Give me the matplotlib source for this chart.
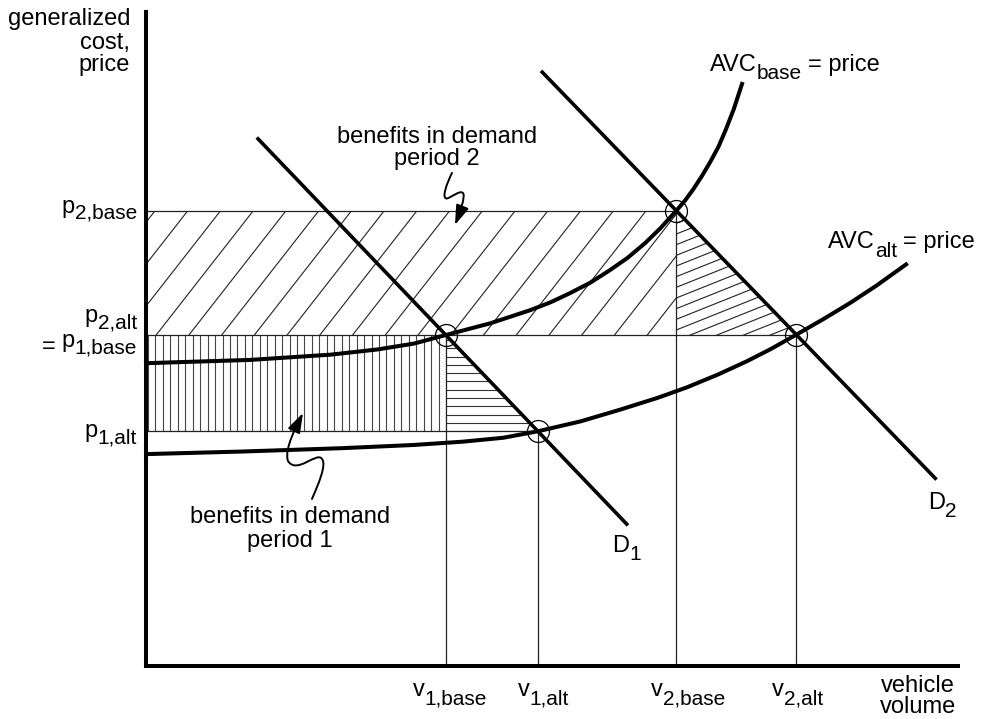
import numpy as np
import matplotlib
matplotlib.use("Agg")
import matplotlib.pyplot as plt
from matplotlib.patches import Polygon, FancyArrowPatch, ArrowStyle
from matplotlib.collections import LineCollection
from matplotlib.path import Path
from matplotlib.transforms import IdentityTransform, offset_copy

plt.rcParams['font.family'] = ['Liberation Sans', 'DejaVu Sans']

# equilibrium volumes and prices
v1_base, v1_alt, v2_base, v2_alt = 3.69, 4.83, 6.53, 8.00
p2_base, p1_base, p1_alt = 6.96, 5.06, 3.59

# demand curves (straight lines between end points)
d1_v = [1.38, 5.92]
d1_p = [8.06, 2.17]
d2_v = [4.88, 9.72]
d2_p = [9.08, 2.87]

# average variable cost curves (base and alternative)
avc_base_v = [0.00, 1.28, 2.27, 2.85, 3.30, 3.69, 4.24, 4.73, 4.98, 5.22, 5.47, 5.71, 5.93,
              6.15, 6.34, 6.53, 6.64, 6.74, 6.85, 6.95, 7.05, 7.14, 7.24, 7.34]
avc_base_p = [4.63, 4.68, 4.76, 4.84, 4.93, 5.06, 5.24, 5.44, 5.56, 5.70, 5.86, 6.05, 6.24,
              6.47, 6.70, 6.96, 7.12, 7.29, 7.50, 7.71, 7.94, 8.20, 8.52, 8.90]
avc_alt_v = [0.00, 1.20, 2.40, 3.30, 3.90, 4.40, 4.83, 5.35, 5.84, 6.30, 6.66, 7.05, 7.40,
             7.70, 8.00, 8.35, 8.67, 9.00, 9.36]
avc_alt_p = [3.24, 3.28, 3.33, 3.38, 3.43, 3.49, 3.59, 3.74, 3.92, 4.10, 4.26, 4.46, 4.66,
             4.85, 5.06, 5.31, 5.55, 5.82, 6.14]

# equilibria (circled)
eq_v = [v1_base, v1_alt, v2_base, v2_alt]
eq_p = [p1_base, p1_alt, p2_base, p1_base]

MAIN, SUB = 17, 15
INK = 'black'

fig = plt.figure(figsize=(9.84, 7.19), dpi=100)
ax = fig.add_axes([0, 0, 1, 1])
ax.set_xlim(-1.798, 10.320)
ax.set_ylim(-0.810, 10.183)
ax.axis('off')
ax.set_autoscale_on(False)


def hatch_region(verts, direction, step, anchor, shift=(0, 0), lw=0.8, color='#222222'):
    """Fill a polygon (data coords) with parallel lines spaced `step` pixels apart."""
    patch = Polygon(verts, closed=True, facecolor='none', edgecolor='none')
    ax.add_patch(patch)
    disp = ax.transData.transform(np.asarray(verts, float))
    d = np.asarray(direction, float)
    d /= np.hypot(*d)
    n = np.array([-d[1], d[0]])
    a = ax.transData.transform(anchor) + np.asarray(shift, float)
    proj = (disp - a) @ n
    k0 = int(np.floor(proj.min() / step)) - 1
    k1 = int(np.ceil(proj.max() / step)) + 1
    L = 3000
    segs = [[a + n * k * step - d * L, a + n * k * step + d * L] for k in range(k0, k1 + 1)]
    lc = LineCollection(segs, transform=IdentityTransform(), colors=color,
                        linewidths=lw, zorder=1)
    ax.add_collection(lc, autolim=False)
    lc.set_clip_path(patch)


# benefits in demand period 2: rectangle and triangle
hatch_region([(0, p1_base), (0, p2_base), (v2_base, p2_base), (v2_base, p1_base)],
             (1, 1.28), 25.8, (0, p2_base), shift=(9, 0))
hatch_region([(v2_base, p2_base), (v2_base, p1_base), (v2_alt, p1_base)],
             (1, 0.40), 9.9, (v2_base, p1_base), shift=(14, 0))
# benefits in demand period 1: rectangle and triangle
hatch_region([(0, p1_alt), (0, p1_base), (v1_base, p1_base), (v1_base, p1_alt)],
             (0, 1), 7.45, (0, p1_base), shift=(2, 0), color='#444444')
hatch_region([(v1_base, p1_base), (v1_base, p1_alt), (v1_alt, p1_alt)],
             (1, 0), 8.3, (v1_base, p1_alt), color='#333333')

# price and volume guide lines
thin = dict(color='#222222', lw=0.9, zorder=2, solid_capstyle='butt')
ax.plot([0, v2_base], [p2_base, p2_base], **thin)
ax.plot([0, v2_alt], [p1_base, p1_base], **thin)
ax.plot([0, v1_alt], [p1_alt, p1_alt], **thin)
ax.plot([v1_base, v1_base], [0, p1_base], **thin)
ax.plot([v1_alt, v1_alt], [0, p1_alt], **thin)
ax.plot([v2_base, v2_base], [0, p2_base], **thin)
ax.plot([v2_alt, v2_alt], [0, p1_base], **thin)

# cost and demand curves
ax.plot(avc_base_v, avc_base_p, color=INK, lw=2.9, zorder=3, solid_joinstyle='round')
ax.plot(avc_alt_v, avc_alt_p, color=INK, lw=2.9, zorder=3, solid_joinstyle='round')
ax.plot(d1_v, d1_p, color=INK, lw=2.6, zorder=3)
ax.plot(d2_v, d2_p, color=INK, lw=2.6, zorder=3)

# circled equilibria
ax.plot(eq_v, eq_p, 'o', ms=15.8, mfc='none', mec=INK, mew=0.9, zorder=4)

# axes
ax.plot([0, 0], [0, 10], color=INK, lw=2.9, zorder=5, solid_capstyle='projecting')
ax.plot([0, 10], [0, 0], color=INK, lw=2.9, zorder=5, solid_capstyle='projecting')

renderer = fig.canvas.get_renderer()


def rich(x, y, pieces, ha='left', dx=0.0, dy=0.0):
    """Draw a row of text pieces; each piece is (text, size, drop_px, gap_px)."""
    texts, widths = [], []
    for s, size, drop, gap in pieces:
        t = ax.text(x, y, s, fontsize=size, va='baseline', ha='left', color=INK)
        widths.append(t.get_window_extent(renderer).width)
        texts.append(t)
    total = sum(widths) + sum(p[3] for p in pieces)
    cur = {'left': 0.0, 'right': -total, 'center': -total / 2}[ha] + dx
    for t, w, (s, size, drop, gap) in zip(texts, widths, pieces):
        cur += gap
        t.set_transform(offset_copy(ax.transData, fig=fig, x=cur, y=dy - drop, units='dots'))
        cur += w


# y-axis title
for txt, yb in [('generalized', 9.80), ('cost,', 9.44), ('price', 9.10)]:
    ax.text(-0.197, yb, txt, fontsize=MAIN, ha='right', va='baseline')

# price labels
rich(0, p2_base, [('p', MAIN, 0, 0), ('2,base', SUB, 6, 0)], ha='right', dx=-9, dy=-2)
rich(0, p1_base, [('p', MAIN, 0, 0), ('2,alt', SUB, 6, 0)], ha='right', dx=-9, dy=13)
rich(0, p1_base, [('=', MAIN, 6, 0), ('p', MAIN, 0, 6), ('1,base', SUB, 6, 0)],
     ha='right', dx=-9, dy=-12)
rich(0, p1_alt, [('p', MAIN, 0, 0), ('1,alt', SUB, 6, 0)], ha='right', dx=-9, dy=-6)

# volume labels
for v, sub, off in [(v1_base, '1,base', 4), (v1_alt, '1,alt', 5),
                    (v2_base, '2,base', 12), (v2_alt, '2,alt', 2)]:
    rich(v, 0, [('v', MAIN, 0, 0), (sub, SUB, 8, 0)], ha='center', dx=off, dy=-30)
ax.text(9.507, -0.40, 'vehicle', fontsize=MAIN, ha='center', va='baseline')
ax.text(9.507, -0.715, 'volume', fontsize=MAIN, ha='center', va='baseline')

# curve labels
rich(6.946, 9.102, [('AVC', MAIN, 0, 0), ('base', SUB, 8.6, 0), ('= price', MAIN, 0, 6)])
rich(8.399, 6.387, [('AVC', MAIN, 0, 0), ('alt', SUB, 8.4, 0), ('= price', MAIN, 0, 6)])
rich(5.739, 1.743, [('D', MAIN, 0, 0), ('1', SUB, 8, 0)])
rich(9.631, 2.401, [('D', MAIN, 0, 0), ('2', SUB, 8, 0)])

# benefit notes
ax.text(3.584, 7.992, 'benefits in demand', fontsize=MAIN, ha='center', va='baseline')
ax.text(3.584, 7.661, 'period 2', fontsize=MAIN, ha='center', va='baseline')
ax.text(1.773, 2.191, 'benefits in demand', fontsize=MAIN, ha='center', va='baseline')
ax.text(1.773, 1.824, 'period 1', fontsize=MAIN, ha='center', va='baseline')


def squiggle(tip, pts):
    """Wavy leader ending in an arrow at `tip`; pts are pixel offsets of a cubic Bezier chain."""
    base = ax.transData.transform(tip)
    verts = base + np.asarray(pts, float)
    codes = [Path.MOVETO] + [Path.CURVE4] * (len(pts) - 1)
    arrow = FancyArrowPatch(path=Path(verts, codes), transform=IdentityTransform(),
                            arrowstyle=ArrowStyle('-|>', head_length=0.6, head_width=0.2),
                            mutation_scale=20, lw=1.4, color=INK, zorder=6)
    ax.add_patch(arrow)


squiggle((3.805, 6.743), [(-3, 52), (-8, 42), (-14, 26), (-8, 26.5),
                          (-2, 28.5), (5, 35), (8, 32),
                          (11, 29), (4, 10), (0, 0)])
squiggle((1.933, 3.869), [(9, -86), (15, -72), (24, -52), (19, -46),
                          (14, -38), (-6, -62), (-15, -48),
                          (-19, -36), (-6, -12), (0, 0)])

fig.savefig('out.png', dpi=100)
